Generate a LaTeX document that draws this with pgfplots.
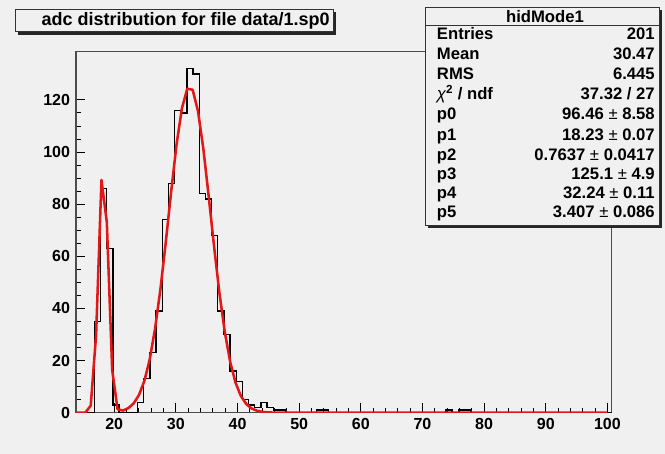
\documentclass[border=0pt]{standalone}
\usepackage{pgfplots}
\pgfplotsset{compat=1.18}
\usepackage{fontspec}
\setmainfont{Liberation Sans}
\definecolor{bg}{HTML}{F0F0F0}
\definecolor{rootred}{RGB}{228,22,22}
\begin{document}
\begin{tikzpicture}[x=0.75pt,y=0.75pt]
\fill[bg] (0,0) rectangle (665,454);
\begin{axis}[
  at={(57pt,30.975pt)}, anchor=south west,
  scale only axis, width=401.8pt, height=270.75pt,
  xmin=13.8, xmax=100.7, ymin=0, ymax=138.5,
  axis line style={gray!60!black, line width=0.8pt},
  tick align=inside, tick pos=left,
  xtick={20,30,...,100}, ytick={0,20,...,120},
  minor x tick num=4, minor y tick num=3,
  major tick length=7pt, minor tick length=3.8pt,
  every tick/.style={black, line width=0.7pt},
  /pgf/number format/assume math mode=true,
  ticklabel style={font=\bfseries\fontsize{12}{12}\selectfont},
  xticklabel style={yshift=-1pt},
  yticklabel style={xshift=-1pt},
]
\addplot[const plot, black, line width=1pt] coordinates {
(13.8,0)(16.8,35)(17.8,86)(18.8,63)(19.8,3)(20.8,0)(23.8,4)(24.8,13)(25.8,23)(26.8,39)(27.8,74)(28.8,88)(29.8,116)(30.8,115)(31.8,132)(32.8,130)(33.8,84)(34.8,82)(35.8,68)(36.8,39)(37.8,30)(38.8,16)(39.8,12)(40.8,5)(41.8,3)(42.8,2)(43.8,4)(44.8,2)(45.8,1)(46.8,1)(47.8,0)(52.8,1)(53.8,1)(54.8,0)(73.8,1)(74.8,0)(75.8,1)(76.8,1)(77.8,0)(100.7,0)};
\addplot[rootred, line width=1.9pt, line join=round] coordinates {
(13.8,0)(14.45,0)(15.32,0.07)(16.19,2.7)(17.06,29.8)(17.93,89.3)(18.80,73.1)(19.67,16.4)(20.54,1.34)(21.41,0.82)(22.28,1.74)(23.15,3.56)(24.02,6.81)(24.89,12.2)(25.76,20.5)(26.63,32.3)(27.50,47.5)(28.37,65.6)(29.24,84.9)(30.11,102.9)(30.98,116.8)(31.85,124.3)(32.72,123.9)(33.59,115.7)(34.46,101.2)(35.33,82.9)(36.20,63.7)(37.07,45.8)(37.94,30.9)(38.81,19.5)(39.68,11.5)(40.55,6.38)(41.42,3.32)(42.29,1.61)(43.16,0.74)(44.03,0.31)(44.90,0.13)(45.77,0.05)(46.64,0.02)(47.51,0)(100,0)};
\end{axis}
% title box
\fill[black!85] (18,454-34.7) rectangle (336,454-12.3);
\filldraw[fill=bg, draw=black!80, line width=0.6pt] (15,454-31.7) rectangle (333,454-9.3);
\node[anchor=east, font=\bfseries\fontsize{13.5}{14}\selectfont, inner sep=0pt] at (330,454-20.5) {adc distribution for file data/1.sp0};
% stats box
\fill[black!85] (428,454-228) rectangle (662,454-10);
\filldraw[fill=bg, draw=black!80, line width=0.6pt] (425,454-225) rectangle (659,454-7);
\draw[black!80, line width=0.6pt] (425,454-25) -- (659,454-25);
\node[font=\bfseries\fontsize{12.5}{14}\selectfont, inner sep=0pt] at (545,454-16.5) {hidMode1};
\begin{scope}[every node/.style={font=\bfseries\fontsize{12.5}{14}\selectfont, inner sep=0pt}]
\node[anchor=mid west] at (436.7,454-35.7) {Entries};
\node[anchor=mid east] at (655,454-35.7) {201};
\node[anchor=mid west] at (436.7,454-55.8) {Mean};
\node[anchor=mid east] at (655,454-55.8) {30.47};
\node[anchor=mid west] at (436.7,454-75.9) {RMS};
\node[anchor=mid east] at (655,454-75.9) {6.445};
\node[anchor=mid west] at (436.7,454-96.2) {{\mdseries\itshape χ}\textsuperscript{2} / ndf};
\node[anchor=mid east] at (655,454-96.2) {37.32 / 27};
\node[anchor=mid west] at (436.7,454-116.4) {p0};
\node[anchor=mid east] at (655,454-116.4) {96.46 {\mdseries ±} 8.58};
\node[anchor=mid west] at (436.7,454-136.5) {p1};
\node[anchor=mid east] at (655,454-136.5) {18.23 {\mdseries ±} 0.07};
\node[anchor=mid west] at (436.7,454-156.5) {p2};
\node[anchor=mid east] at (655,454-156.5) {0.7637 {\mdseries ±} 0.0417};
\node[anchor=mid west] at (436.7,454-176.3) {p3};
\node[anchor=mid east] at (655,454-176.3) {125.1 {\mdseries ±} 4.9};
\node[anchor=mid west] at (436.7,454-195.2) {p4};
\node[anchor=mid east] at (655,454-195.2) {32.24 {\mdseries ±} 0.11};
\node[anchor=mid west] at (436.7,454-213.6) {p5};
\node[anchor=mid east] at (655,454-213.6) {3.407 {\mdseries ±} 0.086};
\end{scope}
\end{tikzpicture}
\end{document}
